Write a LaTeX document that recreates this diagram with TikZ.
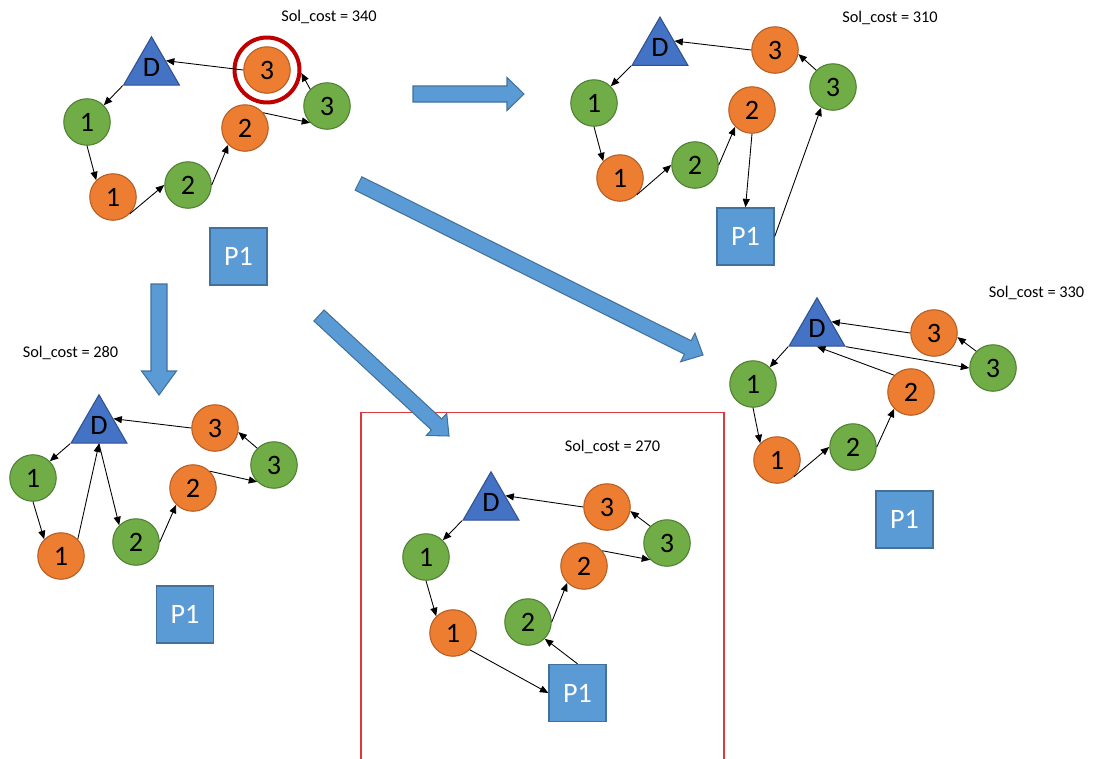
\documentclass[tikz,border=0pt]{standalone}
\usepackage{fontspec}
\setmainfont{Carlito}
\usetikzlibrary{shapes.geometric,arrows.meta,calc}

\definecolor{orgfill}{HTML}{ED7D31}
\definecolor{orgline}{HTML}{B55D22}
\definecolor{grnfill}{HTML}{70AD47}
\definecolor{grnline}{HTML}{4F7F31}
\definecolor{depfill}{HTML}{4472C4}
\definecolor{depline}{HTML}{2F528F}
\definecolor{boxfill}{HTML}{5B9BD5}
\definecolor{boxline}{HTML}{41719C}
\definecolor{ringred}{HTML}{C00000}
\definecolor{framered}{HTML}{E0383A}

\tikzset{
  customer/.style={circle, inner sep=0pt, minimum size=0.93cm, line width=0.6pt,
    font=\fontsize{16}{18}\selectfont},
  org/.style={customer, fill=orgfill, draw=orgline},
  grn/.style={customer, fill=grnfill, draw=grnline},
  depot/.style={regular polygon, regular polygon sides=3, inner sep=0pt,
    minimum size=1.29cm, fill=depfill, draw=depline, line width=0.6pt,
    font=\fontsize{16}{18}\selectfont},
  plant/.style={rectangle, inner sep=0pt, minimum size=1.14cm, fill=boxfill,
    draw=boxline, line width=0.8pt, text=white, font=\fontsize{16}{18}\selectfont},
  link/.style={draw, line width=0.5pt, -{Triangle[length=4.8pt,width=4pt]}},
  cost/.style={font=\fontsize{9.3}{11}\selectfont, inner sep=0pt},
  fatarrow/.style={fill=boxfill, draw=boxline, line width=0.6pt, line join=miter},
}

% block arrow: tail, tip, head-base name, shaft half width, head half width, head length (px)
\newcommand\fatarrow[6]{%
  \coordinate (#3) at ($(#2)!#6*0.02cm!(#1)$);
  \path[fatarrow] ($(#1)!#4*0.02cm!90:(#2)$) -- ($(#3)!#4*0.02cm!-90:(#1)$)
    -- ($(#3)!#5*0.02cm!-90:(#1)$) -- (#2) -- ($(#3)!#5*0.02cm!90:(#1)$)
    -- ($(#3)!#4*0.02cm!90:(#1)$) -- ($(#1)!#4*0.02cm!-90:(#2)$) -- cycle;
}

\begin{document}
\begin{tikzpicture}[x=0.02cm, y=-0.02cm]
\useasboundingbox (0,0) rectangle (1093,758);
\fill[white] (0,0) rectangle (1093,758);

% ---------- initial solution ----------
\node[cost] (c1) at (329,17) {Sol\_cost = 340};
\node[depot] (a-d) at (151.5,69) {\raisebox{2pt}{D}};
\node[org] (a-o3) at (267,70) {3};
\node[grn] (a-g3) at (327,106) {3};
\node[org] (a-o2) at (245,128) {2};
\node[grn] (a-g1) at (87,122) {1};
\node[org] (a-o1) at (113,197) {1};
\node[grn] (a-g2) at (188,185) {2};
\node[plant] (a-p) at (238.5,256.5) {P1};
\node[circle, draw=ringred, line width=0.08cm, minimum size=1.3cm, inner sep=0pt] (a-ring) at (a-o3) {};
\path[link] (a-o3.180) -- (a-d.side 3);
\path[link] (a-d.corner 2) -- (a-g1.45);
\path[link] (a-g1.270) -- (a-o1.135);
\path[link] (a-o1.-45) -- (a-g2.180);
\path[link] (a-g2.0) -- (a-o2.225);
\path[link] (a-o2.40) -- (a-g3.225);
\path[link] (a-g3.135) -- (a-ring.-5);

% ---------- neighbour: cost 310 ----------
\node[cost] (c2) at (890,18) {Sol\_cost = 310};
\node[depot] (b-d) at (660,49.3) {\raisebox{2pt}{D}};
\node[org] (b-o3) at (775,50) {3};
\node[grn] (b-g3) at (833,87) {3};
\node[org] (b-o2) at (752,110) {2};
\node[grn] (b-g1) at (594,103) {1};
\node[org] (b-o1) at (620,178) {1};
\node[grn] (b-g2) at (695,165) {2};
\node[plant] (b-p) at (745.5,236.5) {P1};
\path[link] (b-o3.180) -- (b-d.side 3);
\path[link] (b-g3.135) -- (b-o3.-10);
\path[link] (b-d.corner 2) -- (b-g1.45);
\path[link] (b-g1.270) -- (b-o1.135);
\path[link] (b-o1.-45) -- (b-g2.180);
\path[link] (b-g2.0) -- (b-o2.225);
\path[link] (b-o2.270) -- (b-p.north);
\path[link] (b-p.east) -- (b-g3.240);

% ---------- neighbour: cost 280 ----------
\node[cost] (c3) at (70.5,353) {Sol\_cost = 280};
\node[depot] (c-d) at (99,427) {\raisebox{2pt}{D}};
\node[org] (c-o3) at (215,428) {3};
\node[grn] (c-g3) at (274,465) {3};
\node[org] (c-o2) at (193,488) {2};
\node[grn] (c-g1) at (33,478) {1};
\node[org] (c-o1) at (61,556) {1};
\node[grn] (c-g2) at (136,542) {2};
\node[plant] (c-p) at (185,614.5) {P1};
\path[link] (c-o3.180) -- (c-d.side 3);
\path[link] (c-g3.135) -- (c-o3.-10);
\path[link] (c-o2.45) -- (c-g3.225);
\path[link] (c-g2.0) -- (c-o2.225);
\path[link] (c-d.side 2) -- (c-g2.135);
\path[link] (c-o1.45) -- (c-d.side 2);
\path[link] (c-g1.270) -- (c-o1.135);
\path[link] (c-d.corner 2) -- (c-g1.45);

% ---------- neighbour: cost 270 (selected) ----------
\draw[framered, line width=0.6pt] (361,760) -- (361,412.5) -- (724,412.5) -- (724,760);
\node[cost] (c4) at (612.5,447) {Sol\_cost = 270};
\node[depot] (d-d) at (491,504) {\raisebox{2pt}{D}};
\node[org] (d-o3) at (607,507) {3};
\node[grn] (d-g3) at (667,543) {3};
\node[org] (d-o2) at (584,566) {2};
\node[grn] (d-g1) at (426,557) {1};
\node[org] (d-o1) at (453,633) {1};
\node[grn] (d-g2) at (528,622) {2};
\node[plant] (d-p) at (577.5,693) {P1};
\path[link] (d-o3.180) -- (d-d.side 3);
\path[link] (d-g3.135) -- (d-o3.-10);
\path[link] (d-o2.40) -- (d-g3.225);
\path[link] (d-g2.0) -- (d-o2.225);
\path[link] (d-p.north) -- (d-g2.-45);
\path[link] (d-o1.-45) -- (d-p.west);
\path[link] (d-g1.270) -- (d-o1.135);
\path[link] (d-d.corner 2) -- (d-g1.45);

% ---------- neighbour: cost 330 ----------
\node[cost] (c5) at (1036.5,293) {Sol\_cost = 330};
\node[depot] (e-d) at (817,330) {\raisebox{2pt}{D}};
\node[org] (e-o3) at (934,333) {3};
\node[grn] (e-g3) at (993,368) {3};
\node[org] (e-o2) at (911,392) {2};
\node[grn] (e-g1) at (753,384) {1};
\node[org] (e-o1) at (777,460) {1};
\node[grn] (e-g2) at (853,447) {2};
\node[plant] (e-p) at (904.5,519.5) {P1};
\path[link] (e-o3.180) -- (e-d.side 3);
\path[link] (e-g3.135) -- (e-o3.-10);
\path[link] (e-d.corner 3) -- (e-g3.180);
\path[link] (e-o2.135) -- (e-d.side 2);
\path[link] (e-g2.0) -- (e-o2.225);
\path[link] (e-o1.-45) -- (e-g2.180);
\path[link] (e-g1.270) -- (e-o1.135);
\path[link] (e-d.corner 2) -- (e-g1.45);

% ---------- move arrows ----------
\coordinate (m1t) at (413,94);    \coordinate (m1e) at (524,94);
\fatarrow{m1t}{m1e}{m1h}{8}{16.5}{17}
\coordinate (m2t) at (358.5,183.5); \coordinate (m2e) at (703,355);
\fatarrow{m2t}{m2e}{m2h}{7.5}{16}{17}
\coordinate (m3t) at (159,284);   \coordinate (m3e) at (159,395);
\fatarrow{m3t}{m3e}{m3h}{8}{17.5}{24}
\coordinate (m4t) at (319,315.5); \coordinate (m4e) at (449,436);
\fatarrow{m4t}{m4e}{m4h}{7.5}{15}{17}
\end{tikzpicture}
\end{document}
